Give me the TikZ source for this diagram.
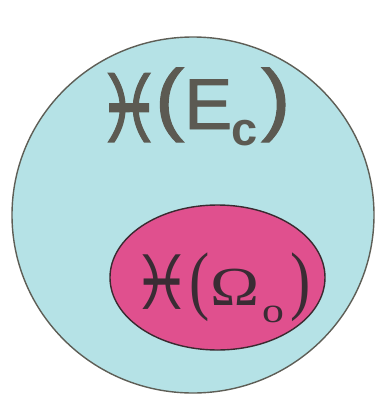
\documentclass[tikz,border=0pt]{standalone}
\usepackage{fontspec}
\setmainfont{Liberation Sans}
\newfontfamily\symf{DejaVu Sans}[FakeBold=1.5]
\newfontfamily\symi{DejaVu Sans}
\newfontfamily\sansE{Liberation Sans}[FakeBold=1.2]
\newfontfamily\serf{Liberation Serif}
\usetikzlibrary{shapes.geometric}
\definecolor{outerfill}{HTML}{B5E2E6}
\definecolor{outerline}{HTML}{5E5E56}
\definecolor{innerfill}{HTML}{E0508E}
\definecolor{innerline}{HTML}{3A2A30}
\definecolor{txtgray}{HTML}{5C5A52}
\definecolor{txtdark}{HTML}{3A2C34}
\tikzset{
  region/.style={ellipse, inner sep=0pt, line width=1.4pt},
  lbl/.style={anchor=base west, inner sep=0pt}
}
\newcommand{\at}[2]{\rlap{\hspace*{#1}#2}}
\begin{document}
\begin{tikzpicture}[x=1pt,y=-1pt]
\useasboundingbox[fill=white] (0,0) rectangle (376,402);
\node[region, draw=outerline, fill=outerfill, minimum width=362pt, minimum height=356pt] (outer) at (193,215) {};
\node[region, draw=innerline, fill=innerfill, minimum width=215pt, minimum height=145pt] (inner) at (217.5,277.5) {};
\node[lbl, text=txtgray] (lblE) at (0,129) {%
\at{97pt}{\raisebox{-13pt}{\scalebox{0.76}[1]{\symf\fontsize{94}{94}\selectfont ♓}}}%
\at{154.7pt}{\raisebox{3.5pt}{\scalebox{1.1}[1]{\sansE\fontsize{80}{80}\selectfont (}}}%
\at{184pt}{\sansE\fontsize{72}{72}\selectfont E}%
\at{231pt}{\raisebox{-16pt}{\fontsize{47}{47}\selectfont\bfseries c}}%
\at{261pt}{\raisebox{3.5pt}{\scalebox{1.1}[1]{\sansE\fontsize{80}{80}\selectfont )}}}%
\phantom{x}};
\node[lbl, text=txtdark] (lblO) at (0,305) {%
\at{132pt}{\raisebox{-4pt}{\scalebox{0.88}[1]{\symi\fontsize{75}{75}\selectfont ♓}}}%
\at{189pt}{\scalebox{0.8}[1]{\serf\fontsize{76}{76}\selectfont (}}%
\at{210pt}{\scalebox{1.2}[1]{\serf\fontsize{55}{55}\selectfont Ω}}%
\at{262pt}{\raisebox{-17pt}{\scalebox{1.25}[1]{\serf\fontsize{35}{35}\selectfont o}}}%
\at{290pt}{\scalebox{0.8}[1]{\serf\fontsize{76}{76}\selectfont )}}%
\phantom{x}};
\end{tikzpicture}
\end{document}
